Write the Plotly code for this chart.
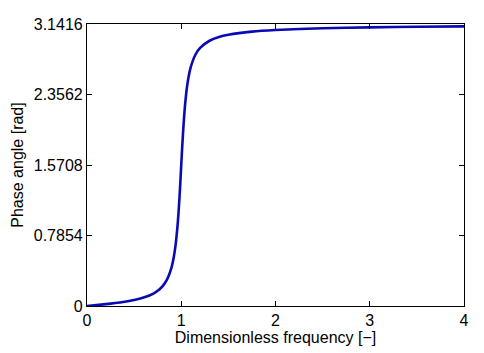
import plotly.graph_objects as go

freq = [0, 0.1, 0.2, 0.3, 0.4, 0.5, 0.6, 0.7, 0.75, 0.8, 0.85, 0.9, 0.92, 0.94, 0.96, 0.97, 0.98, 0.99,
        1.0, 1.01, 1.02, 1.03, 1.04, 1.06, 1.08, 1.1, 1.15, 1.2, 1.3, 1.4, 1.5, 1.75, 2.0, 2.5, 3.0, 3.5, 4.0]
phase = [0.0, 0.010, 0.021, 0.033, 0.048, 0.067, 0.094, 0.136, 0.170, 0.219, 0.297, 0.442, 0.540, 0.680,
         0.886, 1.024, 1.186, 1.372, 1.571, 1.767, 1.948, 2.105, 2.236, 2.433, 2.566, 2.659, 2.799, 2.875,
         2.955, 2.997, 3.022, 3.057, 3.075, 3.094, 3.104, 3.111, 3.115]

ytickvals = [0, 0.7854, 1.5708, 2.3562, 3.1416]
yticktext = ["0", "0.7854", "1.5708", "2.3562", "3.1416"]
xtickvals = [0, 1, 2, 3, 4]

fig = go.Figure()
fig.add_trace(go.Scatter(x=freq, y=phase, mode="lines",
                         line=dict(color="#0a0ab4", width=2.6, shape="spline", smoothing=0.6),
                         showlegend=False))

FAM = "Liberation Sans"
fig.update_layout(
    width=484, height=353,
    margin=dict(l=87, r=20, t=24, b=47),
    paper_bgcolor="white", plot_bgcolor="white",
    font=dict(family=FAM, size=13, color="black"),
)
fig.update_xaxes(range=[0, 4], tickvals=xtickvals, ticks="inside", ticklen=5, tickcolor="black",
                 showline=True, linecolor="black", linewidth=1.2, mirror="ticks", showgrid=False,
                 zeroline=False, automargin=False,
                 title=dict(text="Dimensionless frequency [\u2212]", standoff=3),
                 tickfont=dict(family=FAM, size=16, color="black"))
fig.update_yaxes(range=[0, 3.1416], tickvals=ytickvals, ticktext=yticktext, ticks="inside", ticklen=5,
                 tickcolor="black", showline=True, linecolor="black", linewidth=1.2, mirror="ticks",
                 showgrid=False, zeroline=False, automargin=False,
                 title=dict(text="Phase angle [rad]", standoff=6),
                 tickfont=dict(family=FAM, size=16, color="black"))
fig.write_html("out.html")
